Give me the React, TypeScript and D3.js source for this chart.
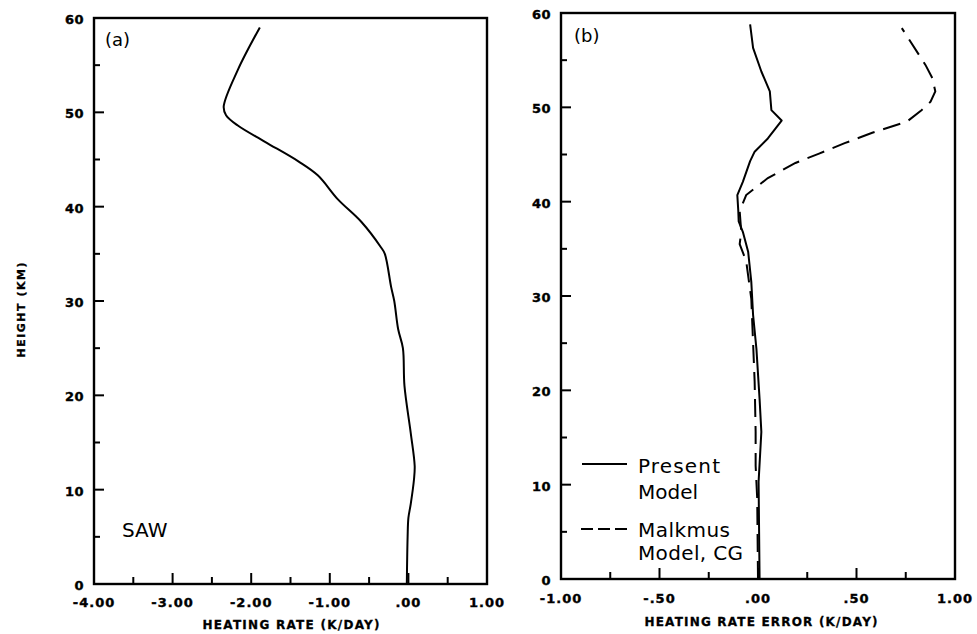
import React from "react";
import * as d3 from "d3";

// ---- data ----
const sawHeights = [0, 5, 7, 8.5, 11, 12.5, 16, 21, 25, 27, 30, 31.5, 35, 35.7, 38.4, 40.8, 43.3, 44.8, 46.9, 48.6, 49.7, 50.6, 54.5, 59];
const sawRates = [-0.02, -0.01, 0.0, 0.03, 0.07, 0.08, 0.03, -0.05, -0.07, -0.13, -0.18, -0.22, -0.3, -0.35, -0.6, -0.9, -1.15, -1.4, -1.83, -2.17, -2.32, -2.35, -2.17, -1.89];

const presentHeights = [0, 10.3, 15.6, 19.1, 24.4, 28, 31.5, 34.7, 36.8, 37.9, 39.0, 40.7, 42.1, 44.3, 45.3, 46.7, 48.6, 49.7, 51.7, 53.8, 56.3, 58.8];
const presentErrors = [0.008, 0.003, 0.017, 0.008, -0.008, -0.025, -0.034, -0.05, -0.077, -0.098, -0.1, -0.105, -0.077, -0.04, -0.017, 0.05, 0.12, 0.068, 0.06, 0.017, -0.025, -0.04];

const malkmusHeights = [0, 8.5, 12, 15.6, 20.9, 29.7, 33.7, 35.5, 36.8, 39.0, 40.7, 42.5, 44.1, 45.1, 46.2, 47.3, 48.5, 49.6, 50.6, 51.7, 53.1, 54.5, 58.4];
const malkmusErrors = [0.0, -0.004, -0.012, -0.012, -0.017, -0.034, -0.06, -0.093, -0.085, -0.093, -0.06, 0.05, 0.19, 0.31, 0.44, 0.58, 0.757, 0.825, 0.876, 0.9, 0.885, 0.85, 0.73];

const leftXTicks = [-4, -3, -2, -1, 0, 1];
const leftXTickLabels = ["-4.00", "-3.00", "-2.00", "-1.00", ".00", "1.00"];
const rightXTicks = [-1, -0.5, 0, 0.5, 1];
const rightXTickLabels = ["-1.00", "-.50", ".00", ".50", "1.00"];
const yTicks = [0, 10, 20, 30, 40, 50, 60];
const yTickLabels = ["0", "10", "20", "30", "40", "50", "60"];

const TICK_FONT = "'DejaVu Sans', sans-serif";

type PanelProps = {
  x0: number; x1: number; y0: number; y1: number;
  xDomain: [number, number];
  minorStep: number; majorStep: number;
  xTicks: number[]; xLabels: string[];
  title: string; titleX: number; titleY: number; titleLen: number;
  xLabelY: number; yLabelX: number;
  children: (x: d3.ScaleLinear<number, number>, y: d3.ScaleLinear<number, number>) => React.ReactNode;
};

function Panel(p: PanelProps) {
  const x = d3.scaleLinear().domain(p.xDomain).range([p.x0, p.x1]);
  const y = d3.scaleLinear().domain([0, 60]).range([p.y1, p.y0]);
  const xMinor = d3.range(p.xDomain[0] + p.minorStep, p.xDomain[1] - 1e-9, p.minorStep);
  const yMinor = d3.range(5, 60, 5);
  const isMajor = (v: number, step: number) => Math.abs(v / step - Math.round(v / step)) < 1e-6;
  return (
    <g>
      <rect x={p.x0} y={p.y0} width={p.x1 - p.x0} height={p.y1 - p.y0} fill="none" stroke="#000" strokeWidth={2.4} />
      {xMinor.map((v, i) => (
        <line key={"xt" + i} x1={x(v)} x2={x(v)} y1={p.y1} y2={p.y1 - (isMajor(v, p.majorStep) ? 11 : 7)} stroke="#000" strokeWidth={2} />
      ))}
      {yMinor.map((v, i) => (
        <line key={"yt" + i} x1={p.x0} x2={p.x0 + (v % 10 === 0 ? 10 : 6)} y1={y(v)} y2={y(v)} stroke="#000" strokeWidth={2} />
      ))}
      {p.xTicks.map((v, i) => (
        <text key={"xl" + i} x={x(v)} y={p.xLabelY} textAnchor="middle" fontFamily={TICK_FONT} fontWeight="bold" fontSize={13} letterSpacing={1} stroke="#000" strokeWidth={0.4}>
          {p.xLabels[i]}
        </text>
      ))}
      {yTicks.map((v, i) => (
        <text key={"yl" + i} x={p.yLabelX} y={y(v) + 6} textAnchor="end" fontFamily={TICK_FONT} fontWeight="bold" fontSize={13} letterSpacing={0.5} stroke="#000" strokeWidth={0.4}>
          {yTickLabels[i]}
        </text>
      ))}
      <text x={p.titleX} y={p.titleY} textAnchor="middle" fontFamily={TICK_FONT} fontWeight="bold" fontSize={12} textLength={p.titleLen} lengthAdjust="spacing" stroke="#000" strokeWidth={0.3}>
        {p.title}
      </text>
      {p.children(x, y)}
    </g>
  );
}

export default function App() {
  const mkLine = (
    x: d3.ScaleLinear<number, number>,
    y: d3.ScaleLinear<number, number>,
    hs: number[],
    vs: number[],
    curve: d3.CurveFactory = d3.curveLinear
  ) => d3.line<number>().x((_, i) => x(vs[i])).y((h) => y(h)).curve(curve)(hs) || "";

  return (
    <svg width={977} height={634} style={{ position: "absolute", left: 0, top: 0, background: "#fff" }}>
      <rect x={0} y={0} width={977} height={634} fill="#fff" />
      <text transform="translate(25,310) rotate(-90)" textAnchor="middle" fontFamily={TICK_FONT} fontWeight="bold" fontSize={11} textLength={95} lengthAdjust="spacing" stroke="#000" strokeWidth={0.3}>
        HEIGHT (KM)
      </text>
      <Panel
        x0={94} x1={487} y0={18} y1={584}
        xDomain={[-4, 1]} minorStep={0.5} majorStep={1}
        xTicks={leftXTicks} xLabels={leftXTickLabels}
        title="HEATING RATE (K/DAY)" titleX={291} titleY={629} titleLen={177}
        xLabelY={607} yLabelX={84}
      >
        {(x, y) => (
          <g>
            <path d={mkLine(x, y, sawHeights, sawRates, d3.curveCatmullRom.alpha(0.5))} fill="none" stroke="#000" strokeWidth={2} strokeLinejoin="round" />
            <text x={105} y={46} fontFamily={TICK_FONT} fontSize={18}>(a)</text>
            <text x={122} y={537} fontFamily={TICK_FONT} fontSize={20}>SAW</text>
          </g>
        )}
      </Panel>
      <Panel
        x0={561} x1={955} y0={13} y1={579}
        xDomain={[-1, 1]} minorStep={0.25} majorStep={0.5}
        xTicks={rightXTicks} xLabels={rightXTickLabels}
        title="HEATING RATE ERROR (K/DAY)" titleX={761} titleY={626} titleLen={233}
        xLabelY={603} yLabelX={551}
      >
        {(x, y) => (
          <g>
            <path d={mkLine(x, y, malkmusHeights, malkmusErrors)} fill="none" stroke="#000" strokeWidth={2} strokeDasharray="18,9" />
            <path d={mkLine(x, y, presentHeights, presentErrors)} fill="none" stroke="#000" strokeWidth={2} strokeLinejoin="round" />
            <text x={574} y={42} fontFamily={TICK_FONT} fontSize={18}>(b)</text>
            <line x1={582} x2={627} y1={464} y2={464} stroke="#000" strokeWidth={2} />
            <text x={638} y={473} fontFamily={TICK_FONT} fontSize={20} textLength={82} lengthAdjust="spacing">Present</text>
            <text x={638} y={499} fontFamily={TICK_FONT} fontSize={20} textLength={60} lengthAdjust="spacing">Model</text>
            <line x1={581} x2={627} y1={529} y2={529} stroke="#000" strokeWidth={2} strokeDasharray="12,5" />
            <text x={638} y={537} fontFamily={TICK_FONT} fontSize={20} textLength={92} lengthAdjust="spacing">Malkmus</text>
            <text x={638} y={560} fontFamily={TICK_FONT} fontSize={20} textLength={105} lengthAdjust="spacing">Model, CG</text>
          </g>
        )}
      </Panel>
    </svg>
  );
}
